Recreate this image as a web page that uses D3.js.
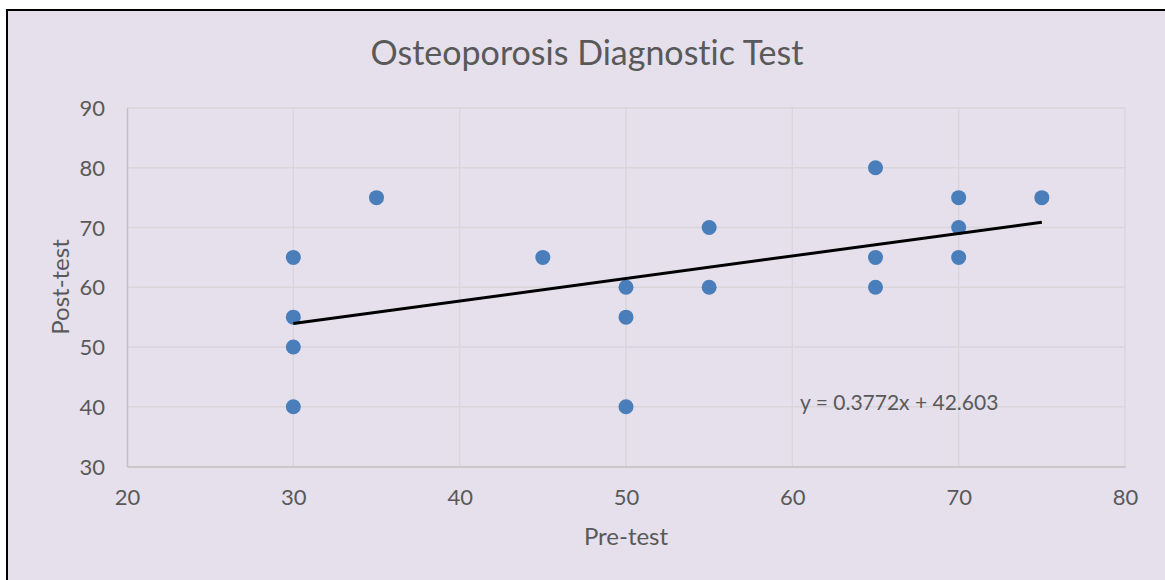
<!DOCTYPE html>
<html>
<head>
<meta charset="utf-8">
<script src="https://cdn.jsdelivr.net/npm/d3@7"></script>
<style>
  body { margin: 0; background: #fff; }
  text { font-family: Lato, "Open Sans", sans-serif; fill: #595959; font-variant-ligatures: none; }
</style>
</head>
<body>
<div id="chart"></div>
<script>
// data
var preTest  = [30, 30, 30, 30, 35, 45, 50, 50, 50, 55, 55, 65, 65, 65, 70, 70, 70, 75];
var postTest = [65, 55, 50, 40, 75, 65, 60, 55, 40, 70, 60, 80, 65, 60, 75, 70, 65, 75];
var xTicks = [20, 30, 40, 50, 60, 70, 80];
var yTicks = [30, 40, 50, 60, 70, 80, 90];
var trendSlope = 0.3772;
var trendIntercept = 42.603;
var trendRange = [30, 75];

var svgWidth = 1165;
var svgHeight = 580;
var margin = { top: 108, right: 40, bottom: 113.5, left: 127 };
var width = 1125 - margin.left;
var height = svgHeight - margin.top - margin.bottom;

var svg = d3.select("#chart")
  .append("svg")
  .attr("width", svgWidth)
  .attr("height", svgHeight);

// chart area background + frame (only top/left edges visible in the shot)
svg.append("rect")
  .attr("x", 7).attr("y", 10)
  .attr("width", svgWidth + 20).attr("height", svgHeight + 20)
  .attr("fill", "#E5E0EC")
  .attr("stroke", "#000")
  .attr("stroke-width", 2);

var plot = svg.append("g")
  .attr("transform", `translate(${margin.left}, ${margin.top})`);

var x = d3.scaleLinear().domain([20, 80]).range([0, width]);
var y = d3.scaleLinear().domain([30, 90]).range([height, 0]);

// gridlines
plot.append("g")
  .selectAll("line")
  .data(yTicks.slice(1))
  .enter()
  .append("line")
  .attr("x1", 0).attr("x2", width)
  .attr("y1", d => y(d)).attr("y2", d => y(d))
  .attr("stroke", "#D8D5DB").attr("stroke-width", 1.3);

plot.append("g")
  .selectAll("line")
  .data(xTicks.slice(1))
  .enter()
  .append("line")
  .attr("y1", 0).attr("y2", height)
  .attr("x1", d => x(d)).attr("x2", d => x(d))
  .attr("stroke", "#D8D5DB").attr("stroke-width", 1.3);

// axes
var xAxis = plot.append("g")
  .attr("transform", `translate(0, ${height})`)
  .call(d3.axisBottom(x).tickValues(xTicks).tickSize(0).tickPadding(22));
var yAxis = plot.append("g")
  .call(d3.axisLeft(y).tickValues(yTicks).tickSize(0).tickPadding(22));

[xAxis, yAxis].forEach(function(a) {
  a.select(".domain").attr("stroke", "#BFBFBF").attr("stroke-width", 1.5);
  a.selectAll("text")
    .style("font-family", "Lato, sans-serif")
    .attr("font-size", "22px")
    .attr("fill", "#595959");
});
xAxis.selectAll("text").attr("dy", "0.71em").attr("y", 23);
yAxis.selectAll("text").attr("dy", "0.35em");

// points
plot.selectAll("circle")
  .data(preTest.map((d, i) => ({ x: d, y: postTest[i] })))
  .enter()
  .append("circle")
  .attr("cx", d => x(d.x))
  .attr("cy", d => y(d.y))
  .attr("r", 7.5)
  .attr("fill", "#4A7EBB");

// linear trendline
var line = d3.line()
  .x(d => x(d))
  .y(d => y(trendSlope * d + trendIntercept));

plot.append("path")
  .datum(trendRange)
  .attr("d", line)
  .attr("fill", "none")
  .attr("stroke", "#000")
  .attr("stroke-width", 3);

plot.append("text")
  .attr("x", 800 - margin.left)
  .attr("y", 403 - margin.top)
  .attr("dy", "0.35em")
  .attr("font-size", "21px")
  .text("y = " + trendSlope + "x + " + trendIntercept);

// title and axis titles
svg.append("text")
  .attr("x", 587)
  .attr("y", 53)
  .attr("dy", "0.35em")
  .attr("text-anchor", "middle")
  .attr("font-size", "34px")
  .text("Osteoporosis Diagnostic Test");

svg.append("text")
  .attr("transform", "translate(61, 287) rotate(-90)")
  .attr("dy", "0.35em")
  .attr("text-anchor", "middle")
  .attr("font-size", "24px")
  .text("Post-test");

svg.append("text")
  .attr("x", 626)
  .attr("y", 537)
  .attr("dy", "0.35em")
  .attr("text-anchor", "middle")
  .attr("font-size", "24px")
  .text("Pre-test");
</script>
</body>
</html>
